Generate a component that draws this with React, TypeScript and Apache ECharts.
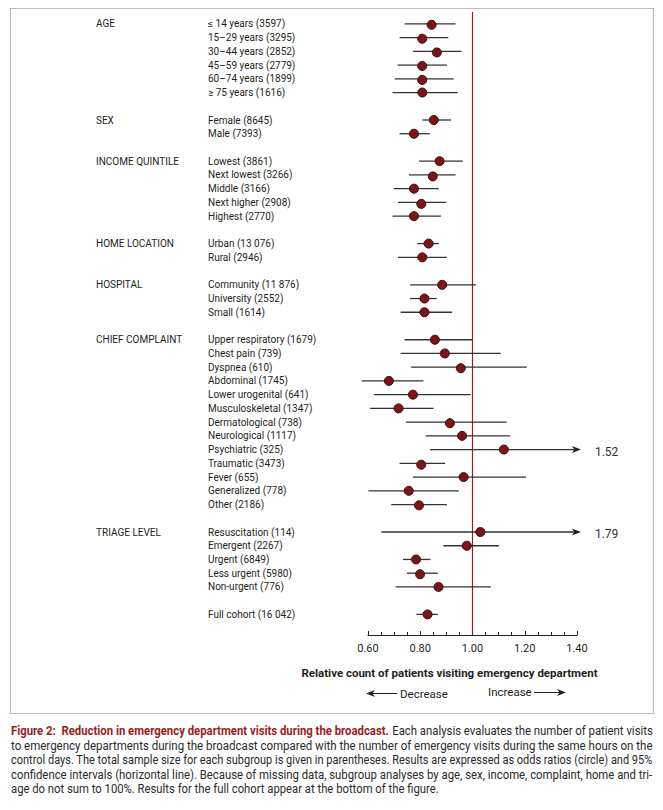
import React, { useEffect, useRef } from "react";
import * as echarts from "echarts";

// ---------- DATA ----------
const ageLabels = ["≤ 14 years (3597)", "15–29 years (3295)", "30–44 years (2852)", "45–59 years (2779)", "60–74 years (1899)", "≥ 75 years (1616)"];
const ageOR = [0.843, 0.807, 0.863, 0.807, 0.807, 0.808];
const ageLo = [0.740, 0.721, 0.772, 0.713, 0.702, 0.694];
const ageHi = [0.935, 0.907, 0.958, 0.902, 0.928, 0.943];

const sexLabels = ["Female (8645)", "Male (7393)"];
const sexOR = [0.852, 0.776];
const sexLo = [0.808, 0.721];
const sexHi = [0.918, 0.837];

const incomeLabels = ["Lowest (3861)", "Next lowest (3266)", "Middle (3166)", "Next higher (2908)", "Highest (2770)"];
const incomeOR = [0.874, 0.847, 0.776, 0.803, 0.776];
const incomeLo = [0.795, 0.757, 0.698, 0.715, 0.694];
const incomeHi = [0.963, 0.935, 0.871, 0.899, 0.879];

const homeLabels = ["Urban (13 076)", "Rural (2946)"];
const homeOR = [0.832, 0.808];
const homeLo = [0.789, 0.715];
const homeHi = [0.871, 0.902];

const hospitalLabels = ["Community (11 876)", "University (2552)", "Small (1614)"];
const hospitalOR = [0.884, 0.816, 0.816];
const hospitalLo = [0.761, 0.761, 0.725];
const hospitalHi = [1.013, 0.863, 0.922];

const complaintLabels = [
  "Upper respiratory (1679)", "Chest pain (739)", "Dyspnea (610)", "Abdominal (1745)",
  "Lower urogenital (641)", "Musculoskeletal (1347)", "Dermatological (738)", "Neurological (1117)",
  "Psychiatric (325)", "Traumatic (3473)", "Fever (655)", "Generalized (778)", "Other (2186)",
];
const complaintOR = [0.856, 0.894, 0.955, 0.680, 0.772, 0.717, 0.913, 0.960, 1.120, 0.803, 0.966, 0.756, 0.795];
const complaintLo = [0.740, 0.725, 0.765, 0.575, 0.622, 0.607, 0.745, 0.821, 0.837, 0.721, 0.772, 0.602, 0.689];
const complaintHi = [1.001, 1.108, 1.208, 0.812, 0.993, 0.851, 1.131, 1.144, 1.52, 0.895, 1.205, 0.947, 0.902];

const triageLabels = ["Resuscitation (114)", "Emergent (2267)", "Urgent (6849)", "Less urgent (5980)", "Non-urgent (776)"];
const triageOR = [1.030, 0.978, 0.784, 0.799, 0.870];
const triageLo = [0.651, 0.888, 0.734, 0.749, 0.706];
const triageHi = [1.79, 1.101, 0.839, 0.867, 1.070];

const fullLabels = ["Full cohort (16 042)"];
const fullOR = [0.828];
const fullLo = [0.785];
const fullHi = [0.867];

const xTicks = [0.6, 0.8, 1.0, 1.2, 1.4];

const captionRed = "Figure 2:  Reduction in emergency department visits during the broadcast.";
const captionLines = [
  " Each analysis evaluates the number of patient visits",
  "to emergency departments during the broadcast compared with the number of emergency visits during the same hours on the",
  "control days. The total sample size for each subgroup is given in parentheses. Results are expressed as odds ratios (circle) and 95%",
  "confidence intervals (horizontal line). Because of missing data, subgroup analyses by age, sex, income, complaint, home and tri-",
  "age do not sum to 100%. Results for the full cohort appear at the bottom of the figure.",
];

// ---------- BUILD ----------
const sections = [
  { name: "AGE", labels: ageLabels, or: ageOR, lo: ageLo, hi: ageHi },
  { name: "SEX", labels: sexLabels, or: sexOR, lo: sexLo, hi: sexHi },
  { name: "INCOME QUINTILE", labels: incomeLabels, or: incomeOR, lo: incomeLo, hi: incomeHi },
  { name: "HOME LOCATION", labels: homeLabels, or: homeOR, lo: homeLo, hi: homeHi },
  { name: "HOSPITAL", labels: hospitalLabels, or: hospitalOR, lo: hospitalLo, hi: hospitalHi },
  { name: "CHIEF COMPLAINT", labels: complaintLabels, or: complaintOR, lo: complaintLo, hi: complaintHi },
  { name: "TRIAGE LEVEL", labels: triageLabels, or: triageOR, lo: triageLo, hi: triageHi },
  { name: "", labels: fullLabels, or: fullOR, lo: fullLo, hi: fullHi },
];

const subLabels: string[] = [];
const grpLabels: string[] = [];
const rows: number[][] = [];
sections.forEach((s, si) => {
  if (si > 0) {
    subLabels.push("");
    grpLabels.push("");
  }
  s.labels.forEach((lab, i) => {
    rows.push([subLabels.length, s.or[i], s.lo[i], s.hi[i]]);
    grpLabels.push(i === 0 ? s.name : "");
    subLabels.push(lab);
  });
});
subLabels.push("");
grpLabels.push("");

const AXIS_MAX = 1.4;
const ARROW_TIP = 1.415;
const FONT = "Roboto, 'Noto Sans', sans-serif";
const TXT = "#231f20";

export default function App() {
  const ref = useRef<HTMLDivElement>(null);

  useEffect(() => {
    if (!ref.current) return;
    const chart = echarts.init(ref.current, undefined, { renderer: "svg" });

    // caption measurement for justified lines
    const ctx = document.createElement("canvas").getContext("2d") as CanvasRenderingContext2D;
    const capSize = 12;
    const measure = (t: string, bold: boolean) => {
      ctx.font = `${bold ? "bold " : ""}${capSize}px Roboto`;
      return ctx.measureText(t).width;
    };
    const capLeft = 11;
    const capWidth = 642;
    const widths = [
      measure(captionRed, true) + measure(captionLines[0], false),
      measure(captionLines[1], false),
      measure(captionLines[2], false),
      measure(captionLines[3], false),
    ];
    const scales = widths.map((w) => capWidth / w);
    const avgScale = (scales[1] + scales[2] + scales[3]) / 3;
    const capY = [731, 745.5, 760, 774.5, 789];

    const captionEls: any[] = [
      {
        type: "text",
        x: capLeft,
        y: capY[0],
        scaleX: scales[0],
        style: {
          text: `{r|${captionRed}}{n|${captionLines[0]}}`,
          verticalAlign: "middle",
          rich: {
            r: { fontFamily: "Roboto", fontSize: capSize, fontWeight: "bold", fill: "#9a1d22" },
            n: { fontFamily: "Roboto", fontSize: capSize, fill: "#2b2b2b" },
          },
        },
      },
    ];
    for (let i = 1; i < 5; i++) {
      captionEls.push({
        type: "text",
        x: capLeft,
        y: capY[i],
        scaleX: i < 4 ? scales[i] : avgScale,
        style: {
          text: captionLines[i],
          fontFamily: "Roboto",
          fontSize: capSize,
          fill: "#2b2b2b",
          verticalAlign: "middle",
        },
      });
    }

    const arrowHead = (tx: number, ty: number, dir: number) => [
      [tx, ty],
      [tx - dir * 9, ty - 3.5],
      [tx - dir * 6.5, ty],
      [tx - dir * 9, ty + 3.5],
    ];

    const option: any = {
      animation: false,
      textStyle: { fontFamily: FONT },
      grid: {
        left: 368,
        top: 17,
        width: 209,
        height: 618,
        containLabel: false,
        outerBoundsMode: "none",
      },
      xAxis: {
        type: "value",
        min: xTicks[0],
        max: xTicks[xTicks.length - 1],
        interval: 0.2,
        axisLine: { show: true, lineStyle: { color: TXT, width: 1 } },
        axisTick: { show: true, inside: true, length: 4, lineStyle: { color: TXT, width: 1 } },
        minorTick: { show: true, splitNumber: 4, length: 3, lineStyle: { color: TXT, width: 1 } },
        splitLine: { show: false },
        minorSplitLine: { show: false },
        axisLabel: {
          formatter: (v: number) => v.toFixed(2),
          fontSize: 11,
          color: TXT,
          margin: 8,
          fontFamily: FONT,
        },
        name: "Relative count of patients visiting emergency department",
        nameLocation: "middle",
        nameGap: 32,
        nameTextStyle: {
          fontWeight: "bold",
          fontSize: 11.5,
          color: TXT,
          fontFamily: FONT,
          padding: [0, 46, 0, 0],
        },
      },
      yAxis: [
        {
          type: "category",
          inverse: true,
          data: subLabels,
          axisLine: { show: false },
          axisTick: { show: false },
          splitLine: { show: false },
          axisLabel: { interval: 0, align: "left", margin: 160, fontSize: 10, color: TXT, fontFamily: FONT },
        },
        {
          type: "category",
          inverse: true,
          position: "left",
          offset: 0,
          data: grpLabels,
          axisLine: { show: false },
          axisTick: { show: false },
          splitLine: { show: false },
          axisLabel: { interval: 0, align: "left", margin: 272, fontSize: 10, color: TXT, fontFamily: FONT },
        },
      ],
      series: [
        {
          type: "custom",
          z: 1,
          data: [[1.0]],
          encode: { x: 0 },
          renderItem: (params: any, api: any) => {
            const cs = params.coordSys;
            const x = api.coord([api.value(0), 0])[0];
            return {
              type: "line",
              shape: { x1: x, y1: cs.y - 5, x2: x, y2: cs.y + cs.height },
              style: { stroke: "#8f1f24", lineWidth: 1.2 },
            };
          },
        },
        {
          type: "custom",
          z: 3,
          clip: false,
          data: rows,
          encode: { y: 0, x: [1, 2, 3] },
          renderItem: (params: any, api: any) => {
            const slot = api.value(0);
            const or = api.value(1);
            const lo = api.value(2);
            const hi = api.value(3);
            const p = api.coord([or, slot]);
            const pl = api.coord([lo, slot]);
            const over = hi > AXIS_MAX;
            const ph = api.coord([over ? ARROW_TIP : hi, slot]);
            const children: any[] = [
              {
                type: "line",
                shape: { x1: pl[0], y1: pl[1], x2: over ? ph[0] - 6 : ph[0], y2: ph[1] },
                style: { stroke: "#333333", lineWidth: 1.3 },
              },
            ];
            if (over) {
              children.push({
                type: "polygon",
                shape: { points: arrowHead(ph[0], ph[1], 1) },
                style: { fill: "#231f20" },
              });
              children.push({
                type: "text",
                x: ph[0] + 14,
                y: ph[1] + 2,
                style: {
                  text: hi.toFixed(2),
                  fontSize: 12,
                  fontFamily: FONT,
                  fill: "#333333",
                  verticalAlign: "middle",
                },
              });
            }
            children.push({
              type: "circle",
              shape: { cx: p[0], cy: p[1], r: 4.5 },
              style: { fill: "#7a1619", stroke: "#3a0a0b", lineWidth: 1 },
            });
            return { type: "group", children };
          },
        },
      ],
      graphic: [
        {
          type: "rect",
          shape: { x: 10.5, y: 8.5, width: 643, height: 705 },
          style: { fill: "none", stroke: "#bdbdbd", lineWidth: 1.2 },
          z: 0,
        },
        {
          type: "line",
          shape: { x1: 372, y1: 693.5, x2: 397, y2: 693.5 },
          style: { stroke: "#231f20", lineWidth: 1 },
        },
        {
          type: "polygon",
          shape: { points: arrowHead(366, 693.5, -1) },
          style: { fill: "#231f20" },
        },
        {
          type: "text",
          x: 400,
          y: 693.5,
          style: { text: "Decrease", fontSize: 11.5, fontFamily: FONT, fill: TXT, verticalAlign: "middle" },
        },
        {
          type: "text",
          x: 488,
          y: 692,
          style: { text: "Increase", fontSize: 11.5, fontFamily: FONT, fill: TXT, verticalAlign: "middle" },
        },
        {
          type: "line",
          shape: { x1: 534, y1: 692.5, x2: 560, y2: 692.5 },
          style: { stroke: "#231f20", lineWidth: 1 },
        },
        {
          type: "polygon",
          shape: { points: arrowHead(566, 692.5, 1) },
          style: { fill: "#231f20" },
        },
        ...captionEls,
      ],
    };

    chart.setOption(option);
    return () => chart.dispose();
  }, []);

  return (
    <div
      ref={ref}
      style={{ position: "absolute", left: 0, top: 0, width: 663, height: 810, background: "#ffffff" }}
    />
  );
}
